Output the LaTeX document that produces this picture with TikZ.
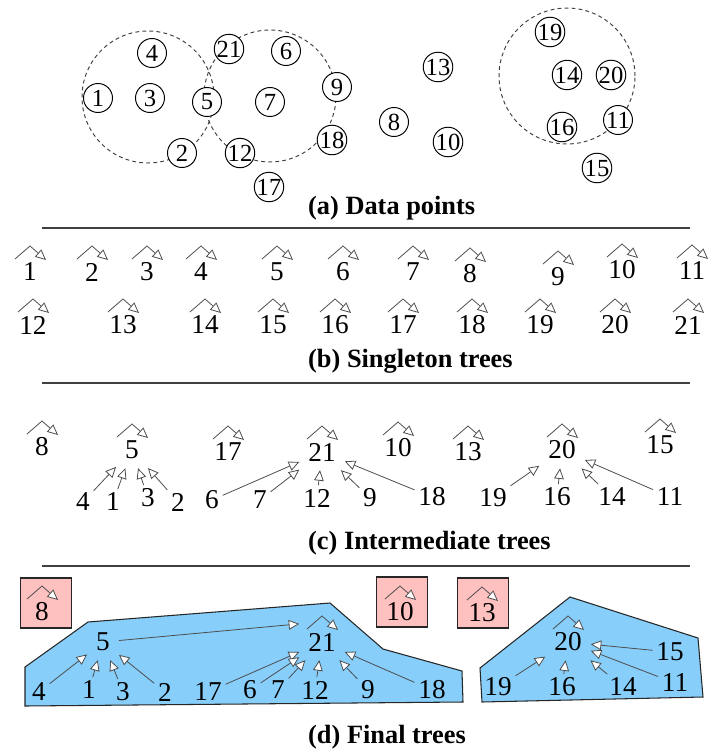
\documentclass[tikz,border=0pt]{standalone}
\usepackage{fontspec}
\setmainfont{Liberation Serif}
\usetikzlibrary{arrows.meta,calc}

\definecolor{treeblue}{RGB}{135,206,250}
\definecolor{lonepink}{RGB}{255,192,192}

\begin{document}
\begin{tikzpicture}[x=0.02cm, y=-0.02cm,
  point/.style={circle, draw, line width=0.55pt, minimum size=0.58cm, inner sep=0pt, font=\fontsize{14}{15}\selectfont},
  lab/.style={inner sep=2pt, font=\fontsize{15.5}{17}\selectfont},
  hub/.style={lab, inner sep=5pt},
  ptr/.style={draw=black!70, line width=0.45pt, -{Triangle[fill=white, length=6pt, width=5.5pt]}},
  selfloop/.style={to path={($(\tikztostart)+(-15,-13)$) -- ($(\tikztostart)+(0,-26)$) -- ($(\tikztostart)+(16,-12)$)}},
  caption/.style={anchor=west, font=\fontsize{15}{17}\selectfont\bfseries},
  rule/.style={draw=black!75, line width=0.8pt},
  region/.style={draw=black!75, dash pattern=on 2.2pt off 1.8pt, line width=0.55pt},
  treearea/.style={fill=treeblue, draw=black!85, line width=0.6pt},
  lonebox/.style={fill=lonepink, draw=black!85, line width=0.6pt, minimum width=1.03cm, minimum height=1.0cm, inner sep=0pt}
]
\useasboundingbox (0,0) rectangle (711,754);

% (a) data points
\draw[region] (148,97) circle [radius=1.32cm];
\draw[region] (270,96) circle [radius=1.32cm];
\draw[region] (567,76) circle [radius=1.36cm];
\node[point, fill=white] (a4) at (152,53) {4};
\node[point, fill=white] (a21) at (229,49) {21};
\node[point, fill=white] (a6) at (286,51) {6};
\node[point, fill=white] (a1) at (98,98) {1};
\node[point, fill=white] (a3) at (150,98) {3};
\node[point, fill=white] (a5) at (207,102) {5};
\node[point, fill=white] (a7) at (270,102) {7};
\node[point, fill=white] (a9) at (337,87) {9};
\node[point, fill=white] (a18) at (332,140) {18};
\node[point, fill=white] (a2) at (182,153) {2};
\node[point, fill=white] (a12) at (240,153) {12};
\node[point, fill=white] (a17) at (269,187) {17};
\node[point, fill=white] (a13) at (438,67) {13};
\node[point, fill=white] (a8) at (394,122) {8};
\node[point, fill=white] (a10) at (448,142) {10};
\node[point, fill=white] (a19) at (550,32) {19};
\node[point, fill=white] (a14) at (567,75) {14};
\node[point, fill=white] (a20) at (611,75) {20};
\node[point, fill=white] (a16) at (562,127) {16};
\node[point, fill=white] (a11) at (618,120) {11};
\node[point, fill=white] (a15) at (597,168) {15};
\node[caption] (capa) at (302,208) {(a) Data points};
\draw[rule] (42,228) -- (690,228);

% (b) singleton trees
\node[lab] (b1) at (30,272) {1};
\node[lab] (b2) at (92,272) {2};
\node[lab] (b3) at (147,272) {3};
\node[lab] (b4) at (201,272) {4};
\node[lab] (b5) at (277,272) {5};
\node[lab] (b6) at (343,272) {6};
\node[lab] (b7) at (413,272) {7};
\node[lab] (b8) at (470,274) {8};
\node[lab] (b9) at (558,277) {9};
\node[lab] (b10) at (622,270) {10};
\node[lab] (b11) at (692,271) {11};
\node[lab] (b12) at (33,325) {12};
\node[lab] (b13) at (123,325) {13};
\node[lab] (b14) at (205,325) {14};
\node[lab] (b15) at (273,325) {15};
\node[lab] (b16) at (335,325) {16};
\node[lab] (b17) at (403,325) {17};
\node[lab] (b18) at (472,325) {18};
\node[lab] (b19) at (540,325) {19};
\node[lab] (b20) at (615,325) {20};
\node[lab] (b21) at (688,325) {21};
\draw[ptr] (b1) to[selfloop] (b1);
\draw[ptr] (b2) to[selfloop] (b2);
\draw[ptr] (b3) to[selfloop] (b3);
\draw[ptr] (b4) to[selfloop] (b4);
\draw[ptr] (b5) to[selfloop] (b5);
\draw[ptr] (b6) to[selfloop] (b6);
\draw[ptr] (b7) to[selfloop] (b7);
\draw[ptr] (b8) to[selfloop] (b8);
\draw[ptr] (b9) to[selfloop] (b9);
\draw[ptr] (b10) to[selfloop] (b10);
\draw[ptr] (b11) to[selfloop] (b11);
\draw[ptr] (b12) to[selfloop] (b12);
\draw[ptr] (b13) to[selfloop] (b13);
\draw[ptr] (b14) to[selfloop] (b14);
\draw[ptr] (b15) to[selfloop] (b15);
\draw[ptr] (b16) to[selfloop] (b16);
\draw[ptr] (b17) to[selfloop] (b17);
\draw[ptr] (b18) to[selfloop] (b18);
\draw[ptr] (b19) to[selfloop] (b19);
\draw[ptr] (b20) to[selfloop] (b20);
\draw[ptr] (b21) to[selfloop] (b21);
\node[caption] (capb) at (302,361) {(b) Singleton trees};
\draw[rule] (42,383) -- (690,383);

% (c) intermediate trees
\node[lab] (c8) at (42,447) {8};
\node[hub] (c5) at (132,450) {5};
\node[lab] (c17) at (228,452) {17};
\node[hub] (c21) at (322,452) {21};
\node[lab] (c10) at (398,448) {10};
\node[lab] (c13) at (468,452) {13};
\node[hub] (c20) at (562,450) {20};
\node[lab] (c15) at (660,445) {15};
\node[lab] (c4) at (83,502) {4};
\node[lab] (c1) at (113,502) {1};
\node[lab] (c3) at (148,498) {3};
\node[lab] (c2) at (178,502) {2};
\node[lab] (c6) at (212,500) {6};
\node[lab] (c7) at (260,500) {7};
\node[lab] (c12) at (317,498) {12};
\node[lab] (c9) at (370,498) {9};
\node[lab] (c18) at (432,497) {18};
\node[lab] (c19) at (493,498) {19};
\node[lab] (c16) at (557,497) {16};
\node[lab] (c14) at (612,497) {14};
\node[lab] (c11) at (670,497) {11};
\draw[ptr] (c8) to[selfloop] (c8);
\draw[ptr] (c5) to[selfloop] (c5);
\draw[ptr] (c17) to[selfloop] (c17);
\draw[ptr] (c21) to[selfloop] (c21);
\draw[ptr] (c10) to[selfloop] (c10);
\draw[ptr] (c13) to[selfloop] (c13);
\draw[ptr] (c20) to[selfloop] (c20);
\draw[ptr] (c15) to[selfloop] (c15);
\draw[ptr] (c4) -- (c5);
\draw[ptr] (c1) -- (c5);
\draw[ptr] (c3) -- (c5);
\draw[ptr] (c2) -- (c5);
\draw[ptr] (c6) -- (c21);
\draw[ptr] (c7) -- (c21);
\draw[ptr] (c12) -- (c21);
\draw[ptr] (c9) -- (c21);
\draw[ptr] (c18) -- (c21);
\draw[ptr] (c19) -- (c20);
\draw[ptr] (c16) -- (c20);
\draw[ptr] (c14) -- (c20);
\draw[ptr] (c11) -- (c20);
\node[caption] (capc) at (302,543) {(c) Intermediate trees};
\draw[rule] (42,566) -- (690,566);

% (d) final trees
\draw[treearea] (25,667) -- (88,622) -- (330,603) -- (383,649) -- (462,671) -- (463,702) -- (25,706) -- cycle;
\draw[treearea] (480,668) -- (570,597) -- (698,638) -- (703,697) -- (482,702) -- cycle;
\node[lonebox] (box8) at (46,603) {};
\node[lonebox] (box10) at (402,602) {};
\node[lonebox] (box13) at (483,603) {};
\node[lab] (d8) at (42,612) {8};
\node[lab] (d10) at (400,612) {10};
\node[lab] (d13) at (482,613) {13};
\node[hub] (d5) at (103,642) {5};
\node[hub] (d21) at (322,642) {21};
\node[hub] (d20) at (568,642) {20};
\node[lab] (d4) at (39,692) {4};
\node[lab] (d1) at (89,690) {1};
\node[lab] (d3) at (123,692) {3};
\node[lab] (d2) at (165,692) {2};
\node[lab] (d17) at (208,692) {17};
\node[lab] (d6) at (250,690) {6};
\node[lab] (d7) at (278,690) {7};
\node[lab] (d12) at (315,690) {12};
\node[lab] (d9) at (368,690) {9};
\node[lab] (d18) at (432,690) {18};
\node[lab] (d15) at (670,652) {15};
\node[lab] (d19) at (498,687) {19};
\node[lab] (d16) at (562,687) {16};
\node[lab] (d14) at (623,687) {14};
\node[lab] (d11) at (675,683) {11};
\draw[ptr] (d8) to[selfloop] (d8);
\draw[ptr] (d10) to[selfloop] (d10);
\draw[ptr] (d13) to[selfloop] (d13);
\draw[ptr] (d21) to[selfloop] (d21);
\draw[ptr] (d20) to[selfloop] (d20);
\draw[ptr] (d4) -- (d5);
\draw[ptr] (d1) -- (d5);
\draw[ptr] (d3) -- (d5);
\draw[ptr] (d2) -- (d5);
\draw[ptr] (d5) -- (d21.north west);
\draw[ptr] (d17) -- (d21);
\draw[ptr] (d6) -- (d21);
\draw[ptr] (d7) -- (d21);
\draw[ptr] (d12) -- (d21);
\draw[ptr] (d9) -- (d21);
\draw[ptr] (d18) -- (d21);
\draw[ptr] (d19) -- (d20);
\draw[ptr] (d16) -- (d20);
\draw[ptr] (d14) -- (d20);
\draw[ptr] (d15) -- (d20);
\draw[ptr] (d11) -- (d20);
\node[caption] (capd) at (302,737) {(d) Final trees};
\end{tikzpicture}
\end{document}
